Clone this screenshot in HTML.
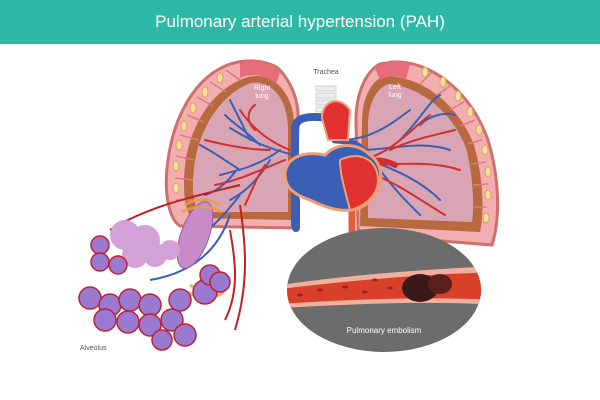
<!DOCTYPE html>
<html><head><meta charset="utf-8"><style>
html,body{margin:0;padding:0;background:#fff;}
svg{display:block;}
text{font-family:"Liberation Sans",sans-serif;}
</style></head><body>
<svg width="600" height="400" viewBox="0 0 600 400" xmlns="http://www.w3.org/2000/svg">
<rect width="600" height="400" fill="#fff"/>
<rect width="600" height="44" fill="#2db8a8"/>
<text x="300" y="27" text-anchor="middle" font-size="17" fill="#fff">Pulmonary arterial hypertension (PAH)</text>

<!-- Right lung (viewer left) -->
<path d="M238,62 C200,70 175,110 168,160 C163,195 170,220 180,226 L295,228 L298,125 C300,100 290,80 278,68 C265,60 250,60 238,62Z" fill="#f2aeb0" stroke="#d0706a" stroke-width="3"/>
<path d="M245,78 C212,90 190,125 185,165 C182,195 186,212 192,218 L292,220 L294,128 C295,105 285,88 272,80 C262,75 252,75 245,78Z" fill="#b86a3e"/>
<path d="M248,84 C220,96 198,130 194,168 C191,195 195,208 199,212 L288,212 L288,130 C288,108 280,92 268,86 C260,82 253,82 248,84Z" fill="#d9a5b4"/>
<path d="M240,62 C255,58 270,62 280,72 L276,84 C265,74 250,73 240,78Z" fill="#e86c7a"/>
<g fill="none" stroke="#e07880" stroke-width="1.5">
<path d="M226,70 L240,80"/><path d="M210,82 L226,92"/><path d="M197,97 L213,106"/><path d="M187,115 L204,122"/><path d="M180,135 L198,140"/><path d="M176,156 L194,160"/><path d="M175,178 L193,180"/><path d="M176,200 L194,200"/>
</g>
<g fill="#f3dfa0" stroke="#e0a060" stroke-width="1">
<ellipse cx="220" cy="78" rx="3" ry="5"/><ellipse cx="205" cy="92" rx="3" ry="5"/><ellipse cx="193" cy="108" rx="3" ry="5"/><ellipse cx="184" cy="126" rx="3" ry="5"/><ellipse cx="179" cy="145" rx="3" ry="5"/><ellipse cx="176" cy="166" rx="3" ry="5"/><ellipse cx="176" cy="188" rx="3" ry="5"/>
</g>

<!-- Left lung (viewer right) -->
<path d="M392,62 C430,60 470,90 488,140 C500,180 500,220 492,245 L380,236 L358,230 L356,120 C356,95 365,72 380,64 Z" fill="#f2aeb0" stroke="#d0706a" stroke-width="3"/>
<path d="M388,76 C425,78 458,105 474,145 C484,180 484,215 480,232 L360,226 L362,122 C362,100 370,84 380,78Z" fill="#b86a3e"/>
<path d="M390,84 C422,88 452,112 466,148 C474,180 474,210 472,222 L368,218 L368,126 C368,104 376,90 386,85Z" fill="#d9a5b4"/>
<path d="M375,68 C385,60 400,60 410,64 L406,80 C396,74 386,76 380,80Z" fill="#e86c7a"/>
<g fill="none" stroke="#e07880" stroke-width="1.5">
<path d="M432,72 L420,84"/><path d="M450,86 L436,96"/><path d="M464,102 L450,110"/><path d="M475,120 L460,126"/><path d="M482,140 L467,144"/><path d="M486,162 L471,164"/><path d="M488,184 L473,185"/><path d="M487,207 L473,207"/>
</g>
<g fill="#f3dfa0" stroke="#e0a060" stroke-width="1">
<ellipse cx="425" cy="72" rx="3" ry="5"/><ellipse cx="443" cy="82" rx="3" ry="5"/><ellipse cx="458" cy="96" rx="3" ry="5"/><ellipse cx="470" cy="112" rx="3" ry="5"/><ellipse cx="479" cy="130" rx="3" ry="5"/><ellipse cx="485" cy="150" rx="3" ry="5"/><ellipse cx="488" cy="172" rx="3" ry="5"/><ellipse cx="488" cy="195" rx="3" ry="5"/><ellipse cx="486" cy="218" rx="3" ry="5"/>
</g>

<text x="262" y="90" text-anchor="middle" font-size="7" fill="#fff">Right</text>
<text x="262" y="98" text-anchor="middle" font-size="7" fill="#fff">lung</text>
<text x="395" y="89" text-anchor="middle" font-size="7" fill="#fff">Left</text>
<text x="395" y="97" text-anchor="middle" font-size="7" fill="#fff">lung</text>
<text x="326" y="74" text-anchor="middle" font-size="7" fill="#555">Trachea</text>

<!-- trachea -->
<g fill="#eeeeee" stroke="#d0d0d0" stroke-width="1">
<rect x="316" y="86" width="20" height="5"/><rect x="316" y="93" width="20" height="5"/><rect x="316" y="100" width="20" height="5"/><rect x="316" y="107" width="20" height="5"/>
</g>

<!-- vessels -->
<g fill="none" stroke-linecap="round">
<path d="M295,225 L295,130 C295,118 305,115 330,118" stroke="#3a5fb5" stroke-width="8"/>
<path d="M295,155 C270,150 250,140 230,128 M280,150 C260,165 240,170 220,175 M270,160 C255,185 240,195 230,200 M250,140 C240,120 235,110 230,100 M240,170 C225,160 210,150 200,145 M260,145 C245,130 235,125 225,115 M235,172 C225,185 215,192 205,195" stroke="#3a5fb5" stroke-width="2"/>
<path d="M290,150 C265,140 250,125 240,110 M285,160 C260,170 240,180 215,185 M270,150 C250,150 225,145 205,140 M265,165 C255,180 250,195 245,205 M255,130 C245,120 248,110 255,105" stroke="#d03030" stroke-width="2"/>
<path d="M340,140 C370,140 390,125 410,110 M360,150 C390,150 420,140 450,150 M370,160 C395,170 420,180 440,200 M400,140 C420,120 430,100 440,95 M380,170 C395,190 405,200 420,215 M420,125 C430,115 445,112 455,115" stroke="#3a5fb5" stroke-width="2"/>
<path d="M360,160 C390,155 410,130 430,115 M365,165 C395,165 430,160 460,170 M375,175 C400,185 420,200 445,215 M390,150 C410,140 435,135 455,130" stroke="#d03030" stroke-width="2"/>
<path d="M335,140 C355,140 365,150 370,160" stroke="#3a5fb5" stroke-width="7"/>
<path d="M355,165 C372,158 385,160 395,165" stroke="#d03030" stroke-width="6"/>
<path d="M352,195 L352,240" stroke="#e06040" stroke-width="7"/>
<path d="M296,200 L296,228" stroke="#3a5fb5" stroke-width="8"/>
</g>

<!-- heart -->
<path d="M322,118 C322,100 340,95 350,110 L348,140 L328,140Z" fill="#e03030" stroke="#f0a080" stroke-width="2"/>
<path d="M285,175 C285,160 300,150 325,155 C340,140 360,145 370,155 C385,165 385,190 365,205 C350,215 330,210 310,200 C295,195 285,188 285,175Z" fill="#3a5fb5" stroke="#f0a070" stroke-width="3"/>
<path d="M340,160 C360,150 378,160 378,180 C378,198 360,208 350,210 C345,190 340,175 340,160Z" fill="#e03030" stroke="#f0a070" stroke-width="2"/>

<!-- embolism circle -->
<ellipse cx="384" cy="290" rx="97" ry="62" fill="#6c6c6c"/>
<clipPath id="c"><ellipse cx="384" cy="290" rx="97" ry="62"/></clipPath>
<g clip-path="url(#c)">
<path d="M280,285 C330,278 400,270 500,266 L500,305 C420,300 340,305 280,308Z" fill="#f0b0a0"/>
<path d="M280,289 C330,283 400,275 500,272 L500,300 C420,296 340,300 280,304Z" fill="#d8402a"/>
<g fill="#a02020"><ellipse cx="300" cy="295" rx="3" ry="1.5"/><ellipse cx="320" cy="290" rx="3" ry="1.5"/><ellipse cx="345" cy="287" rx="3" ry="1.5"/><ellipse cx="365" cy="292" rx="3" ry="1.5"/><ellipse cx="375" cy="280" rx="3" ry="1.5"/><ellipse cx="390" cy="288" rx="3" ry="1.5"/></g>
<ellipse cx="420" cy="288" rx="18" ry="14" fill="#3a1a18"/>
<ellipse cx="440" cy="284" rx="12" ry="10" fill="#5a2020"/>
</g>
<text x="384" y="333" text-anchor="middle" font-size="8" fill="#fff">Pulmonary embolism</text>

<!-- alveolus region -->
<g fill="none" stroke="#c02020" stroke-width="2">
<path d="M110,230 C150,205 200,195 240,185"/>
<path d="M230,230 C235,260 240,290 225,320"/>
<path d="M240,205 C245,240 250,280 235,330"/>
</g>
<g fill="none" stroke="#3a5fb5" stroke-width="2">
<path d="M160,250 C200,245 220,220 240,195"/>
<path d="M150,280 C180,275 215,260 230,215"/>
</g>
<ellipse cx="195" cy="235" rx="14" ry="35" fill="#c88ac8" stroke="#9a5aa8" transform="rotate(20 195 235)"/>
<g stroke="#e8a040" stroke-width="3" fill="none" opacity=".8">
<path d="M185,205 C195,198 210,198 220,205"/><path d="M182,212 C195,205 210,205 222,212"/>
<path d="M190,285 C200,292 212,292 222,285"/><path d="M188,292 C200,300 212,300 224,292"/>
</g>
<g fill="#d4a0d8"><circle cx="125" cy="235" r="15"/><circle cx="145" cy="240" r="15"/><circle cx="135" cy="255" r="13"/><circle cx="155" cy="255" r="12"/><circle cx="170" cy="250" r="10"/></g>
<g fill="#9a7ad0" stroke="#c02030" stroke-width="1.5">
<circle cx="100" cy="245" r="9"/><circle cx="100" cy="262" r="9"/><circle cx="118" cy="265" r="9"/>
<circle cx="90" cy="298" r="11"/><circle cx="110" cy="305" r="11"/><circle cx="130" cy="300" r="11"/><circle cx="150" cy="305" r="11"/>
<circle cx="105" cy="320" r="11"/><circle cx="128" cy="322" r="11"/><circle cx="150" cy="325" r="11"/><circle cx="172" cy="320" r="11"/>
<circle cx="162" cy="340" r="10"/><circle cx="185" cy="335" r="11"/><circle cx="180" cy="300" r="11"/><circle cx="205" cy="292" r="12"/>
<circle cx="210" cy="275" r="10" /><circle cx="220" cy="282" r="10"/>
</g>
<text x="80" y="350" font-size="7" fill="#555">Alveolus</text>
</svg>
</body></html>
